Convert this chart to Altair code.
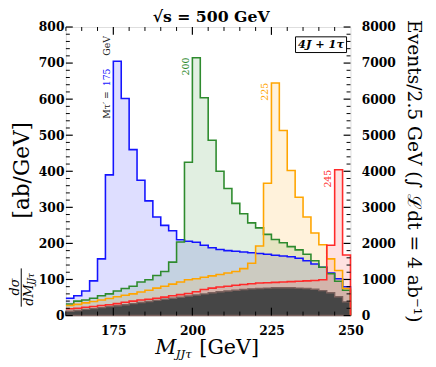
import altair as alt
import pandas as pd

# bin left edges (2.5 GeV bins from 160 to 250)
bin_lo = [160 + 2.5 * k for k in range(36)]
x_end = 250.0

blue = [48, 55, 68, 96, 157, 390, 705, 602, 460, 375, 318, 273, 250, 235, 210, 206, 203, 195,
        188, 183, 180, 178, 176, 174, 172, 170, 167, 165, 163, 159, 152, 143, 134, 118, 102, 80]
green = [32, 40, 43, 48, 55, 60, 68, 75, 81, 93, 99, 111, 122, 148, 204, 425, 715, 604,
         486, 400, 352, 311, 282, 257, 243, 225, 211, 202, 191, 182, 170, 152, 134, 116, 95, 70]
orange = [28, 31, 35, 39, 43, 47, 52, 56, 60, 65, 70, 76, 81, 87, 93, 99, 102, 106,
          110, 114, 118, 122, 130, 145, 193, 367, 645, 513, 402, 328, 273, 229, 196, 157, 125, 75]
red = [19, 20, 23, 25, 28, 30, 33, 37, 40, 43, 45, 48, 51, 55, 58, 61, 66, 72,
       76, 79, 81, 84, 86, 88, 90, 91, 92, 93, 94, 95, 96, 97, 99, 195, 404, 168]
bkg = [12, 14, 17, 19, 22, 25, 27, 30, 33, 36, 39, 42, 45, 48, 51, 54, 57, 60,
       63, 66, 68, 70, 72, 74, 75, 76, 77, 77, 77, 76, 75, 73, 69, 63, 52, 38]

series = [("blue", blue, "#1414ff"), ("green", green, "#2e8b2e"),
          ("orange", orange, "#ffa500"), ("red", red, "#ff2a2a")]

# peak labels: text, x (GeV), y (ab/GeV), color
peak_text = ["200", "225", "245"]
peak_x = [199.6, 224.6, 244.6]
peak_y = [715, 645, 404]
peak_col = ["#2e8b2e", "#ffa500", "#ff2a2a"]

y_major = list(range(0, 801, 100))
y_minor = [v for v in range(0, 801, 20) if v % 100]
y2_major = list(range(0, 8001, 1000))
x_major = [175, 200, 225]
x_minor = [v for v in range(160, 251, 5) if v % 25]

FONT = "DejaVu Serif"
W, H = 290, 294

XS = alt.Scale(domain=[160, 250], nice=False, zero=False)
YS = alt.Scale(domain=[0, 800], nice=False, zero=True)
Y2S = alt.Scale(domain=[0, 8000], nice=False, zero=True)

X_AX = alt.Axis(values=[175, 200, 225, 250], ticks=False, domain=False, grid=False,
                labelFont=FONT, labelFontWeight="bold", labelFontSize=12.5, labelColor="black",
                labelPadding=9, labelFlush=False, labelOverlap=False, title=None, format="d")
L_AX = alt.Axis(values=y_major, ticks=False, domain=False, grid=False, orient="left",
                labelFont=FONT, labelFontWeight="bold", labelFontSize=12.5, labelColor="black",
                labelPadding=2, labelFlush=False, labelOverlap=False, title=None, format="d")
R_AX = alt.Axis(values=y2_major, ticks=False, domain=False, grid=False, orient="right",
                labelFont=FONT, labelFontWeight="bold", labelFontSize=12.5, labelColor="black",
                labelPadding=11, labelFlush=False, labelOverlap=False, title=None, format="d")


def step_df(vals):
    return pd.DataFrame({"x": bin_lo + [x_end], "v": list(vals) + [0]})


def xenc():
    return alt.X("x:Q", scale=XS, axis=X_AX)


layers = []
# translucent fills
for name, vals, col in series:
    layers.append(alt.Chart(step_df(vals)).mark_area(
        interpolate="step-after", color=col, opacity=0.14).encode(
        x=xenc(), y=alt.Y("v:Q", scale=YS, axis=None)))
# background
layers.append(alt.Chart(step_df(bkg)).mark_area(
    interpolate="step-after", color="#464646", opacity=1, stroke="#7c625e", strokeWidth=1.4).encode(
    x=xenc(), y=alt.Y("v:Q", scale=YS, axis=None)))
# outlines
for name, vals, col in series:
    layers.append(alt.Chart(step_df(vals)).mark_line(
        interpolate="step-after", color=col, strokeWidth=1.6).encode(
        x=xenc(), y=alt.Y("v:Q", scale=YS, axis=None)))

# peak labels
lab_df = pd.DataFrame({"x": peak_x, "v": peak_y, "t": peak_text, "c": peak_col})
layers.append(alt.Chart(lab_df).mark_text(
    angle=270, align="right", baseline="bottom", font=FONT, fontSize=9.5).encode(
    x=xenc(), y=alt.Y("v:Q", scale=YS, axis=None), text="t:N",
    color=alt.Color("c:N", scale=None)))

# blue label segments
blue_lab = pd.DataFrame({"x": [174.6, 174.6, 174.6], "v": [775, 685, 622],
                         "t": ["GeV", "175", "M\u03c4\u2032 ="],
                         "c": ["#222222", "#1414ff", "#222222"]})
layers.append(alt.Chart(blue_lab).mark_text(
    angle=270, align="right", baseline="bottom", font=FONT, fontSize=9.5).encode(
    x=xenc(), y=alt.Y("v:Q", scale=YS, axis=None), text="t:N",
    color=alt.Color("c:N", scale=None)))

# ticks (inward)
def rule_df(col, vals):
    return pd.DataFrame({col: vals})

layers.append(alt.Chart(rule_df("v", y_major)).mark_rule(color="black", strokeWidth=1.2).encode(
    y=alt.Y("v:Q", scale=YS, axis=L_AX), x=alt.value(0), x2=alt.value(7)))
layers.append(alt.Chart(rule_df("v", y_minor)).mark_rule(color="black", strokeWidth=1).encode(
    y=alt.Y("v:Q", scale=YS, axis=None), x=alt.value(0), x2=alt.value(4)))
layers.append(alt.Chart(rule_df("r", y2_major)).mark_rule(color="black", strokeWidth=1.2).encode(
    y=alt.Y("r:Q", scale=Y2S, axis=R_AX), x=alt.value(W), x2=alt.value(W - 7)))
layers.append(alt.Chart(rule_df("v", y_minor)).mark_rule(color="black", strokeWidth=1).encode(
    y=alt.Y("v:Q", scale=YS, axis=None), x=alt.value(W), x2=alt.value(W - 4)))
for yy, ln in [(H, -1), (0, 1)]:
    layers.append(alt.Chart(rule_df("x", x_major)).mark_rule(color="black", strokeWidth=1.2).encode(
        x=xenc(), y=alt.value(yy), y2=alt.value(yy + ln * 8)))
    layers.append(alt.Chart(rule_df("x", x_minor)).mark_rule(color="black", strokeWidth=1).encode(
        x=xenc(), y=alt.value(yy), y2=alt.value(yy + ln * 4)))

dummy = pd.DataFrame({"a": [0]})


def txt(text, x, y, size, angle=0, align="center", baseline="alphabetic",
        weight="normal", style="normal", color="black"):
    return alt.Chart(dummy).mark_text(
        text=text, angle=angle, align=align, baseline=baseline, font=FONT,
        fontSize=size, fontWeight=weight, fontStyle=style, color=color).encode(
        x=alt.value(x), y=alt.value(y))

# top title
layers.append(txt("\u221as = 500 GeV", 148, -5, 16, weight="bold"))
# box 4J + 1tau
layers.append(alt.Chart(dummy).mark_rect(fill="white", stroke="black", strokeWidth=1).encode(
    x=alt.value(234), x2=alt.value(286), y=alt.value(10), y2=alt.value(26)))
layers.append(txt("4J + 1\u03c4", 260, 18.5, 11.5, baseline="middle", style="italic", weight="bold"))
# x title
layers.append(txt("M", 91, 333, 21, align="left", style="italic"))
layers.append(txt("JJ\u03c4", 112, 337, 12, align="left", style="italic"))
layers.append(txt("[GeV]", 136, 333, 21, align="left"))
# left title
layers.append(txt("[ab/GeV]", -45, 146, 22, angle=270, baseline="middle"))
layers.append(txt("d\u03c3", -52, 265, 13, angle=270, baseline="middle", style="italic"))
layers.append(alt.Chart(dummy).mark_rule(color="black", strokeWidth=1).encode(
    x=alt.value(-45.5), y=alt.value(246), y2=alt.value(285)))
layers.append(txt("dM", -38, 284, 13, angle=270, align="left", baseline="middle", style="italic"))
layers.append(txt("JJ\u03c4", -35, 263, 9, angle=270, align="left", baseline="middle", style="italic"))
# right title
layers.append(txt("Events/2.5 GeV (\u222b \u2112dt = 4 ab\u207b\u00b9)", 355, 147, 19,
                  angle=90, baseline="middle"))

chart = alt.layer(*layers).resolve_scale(y="independent").properties(
    width=W, height=H, autosize="none",
    padding={"left": 59, "top": 16, "right": 79, "bottom": 45},
).configure_view(stroke="black", strokeWidth=2.5).configure(background="white")

chart.save("out.html", embed_options={"renderer": "svg", "actions": False})
